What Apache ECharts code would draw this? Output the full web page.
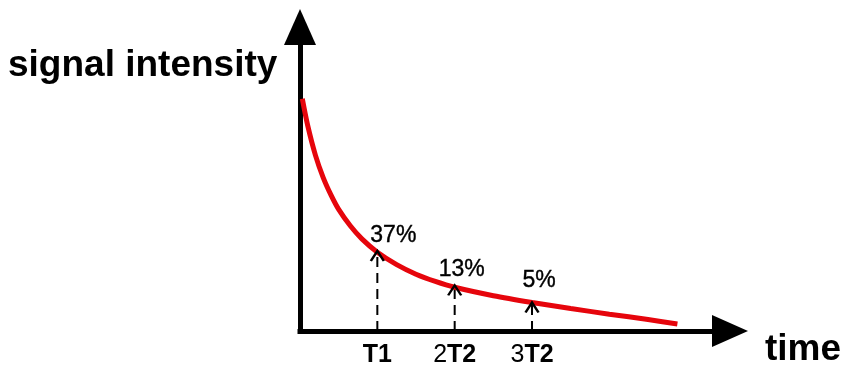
<!DOCTYPE html>
<html>
<head>
<meta charset="utf-8">
<script src="https://cdn.jsdelivr.net/npm/echarts@6/dist/echarts.min.js"></script>
<style>
html,body{margin:0;padding:0;background:#fff;}
#chart{width:844px;height:367px;}
</style>
</head>
<body>
<div id="chart"></div>
<script>
// ---- data ----
const curveTime   = [0.03, 0.1, 0.2, 0.3, 0.4, 0.5, 0.65, 0.8, 1.0, 1.25, 1.5, 1.75, 2.0, 2.5, 3.0, 3.5, 4.0, 4.5, 4.88];
const curveSignal = [99.3, 87.8, 75.1, 65.6, 58.2, 52.0, 45.0, 39.4, 33.7, 28.4, 24.3, 21.2, 18.7, 15.1, 12.2, 9.6, 7.2, 4.9, 3.0];
const markerTimes   = [1, 2, 3];
const markerHeights = [34.2, 19.5, 12.2];
const markerLabels  = ['37%', '13%', '5%'];
const tickLabels    = ['T1', '2T2', '3T2'];
const yAxisTitle = 'signal intensity';
const xAxisTitle = 'time';

// ---- styling (not data) ----
const labelOffsets = [[16, -2], [7, -2], [7, -8]];
const FONT = '"Liberation Sans", Arial, sans-serif';

const chart = echarts.init(document.getElementById('chart'), null, {renderer: 'canvas'});

const curveData = curveTime.map((t, i) => [t, curveSignal[i]]);

const dashSeries = markerTimes.map((t, i) => ({
  type: 'line',
  data: [[t, 0], [t, markerHeights[i]]],
  symbol: 'none',
  silent: true,
  z: 2,
  lineStyle: {color: '#000', width: 2, type: [10, 6]}
}));

const chevron = 'path://M0,9 L6,0 L12,9';

const option = {
  animation: false,
  backgroundColor: '#fff',
  grid: {left: 300, right: 114, top: 27, bottom: 36, containLabel: false, outerBoundsMode: 'none'},
  xAxis: {
    type: 'value', min: 0, max: 5.56, interval: 1,
    axisLine: {show: true, onZero: false, symbol: ['none', 'triangle'], symbolSize: [32, 36],
      lineStyle: {color: '#000', width: 5, cap: 'square'}},
    axisTick: {show: false},
    splitLine: {show: false},
    axisLabel: {
      margin: 12,
      formatter: function (v) {
        const idx = markerTimes.indexOf(Math.round(v * 1000) / 1000);
        if (idx < 0) return '';
        const m = tickLabels[idx].match(/^(\d*)(.*)$/);
        return (m[1] ? '{n|' + m[1] + '}' : '') + '{b|' + m[2] + '}';
      },
      rich: {
        n: {fontSize: 25, fontWeight: 'normal', color: '#000', fontFamily: FONT, lineHeight: 25},
        b: {fontSize: 25, fontWeight: 'bold', color: '#000', fontFamily: FONT, lineHeight: 25}
      }
    }
  },
  yAxis: {
    type: 'value', min: 0, max: 130,
    axisLine: {show: true, onZero: false, symbol: ['none', 'triangle'], symbolSize: [32, 36],
      lineStyle: {color: '#000', width: 5, cap: 'square'}},
    axisTick: {show: false},
    axisLabel: {show: false},
    splitLine: {show: false}
  },
  graphic: [
    {type: 'text', left: 8, top: 47, style: {text: yAxisTitle, fill: '#000', font: 'bold 37px ' + FONT}},
    {type: 'text', left: 765, top: 331, style: {text: xAxisTitle, fill: '#000', font: 'bold 37px ' + FONT}}
  ],
  series: [
    ...dashSeries,
    {
      type: 'line',
      z: 4,
      silent: true,
      data: curveData,
      symbol: 'none',
      smooth: 0.3,
      lineStyle: {color: '#e6050c', width: 5}
    },
    {
      type: 'scatter',
      z: 5,
      silent: true,
      symbol: chevron,
      symbolSize: [13, 10],
      symbolOffset: [0, '50%'],
      itemStyle: {color: 'none', borderColor: '#000', borderWidth: 2.2, opacity: 1},
      label: {
        show: true, position: 'top', distance: 0,
        formatter: function (p) { return markerLabels[p.dataIndex]; },
        fontSize: 23, fontFamily: FONT, color: '#000', fontWeight: 'normal',
        textBorderColor: '#000', textBorderWidth: 0.4
      },
      data: markerTimes.map((t, i) => ({
        value: [t, markerHeights[i]],
        label: {offset: labelOffsets[i]}
      }))
    }
  ]
};
chart.setOption(option);
</script>
</body>
</html>
